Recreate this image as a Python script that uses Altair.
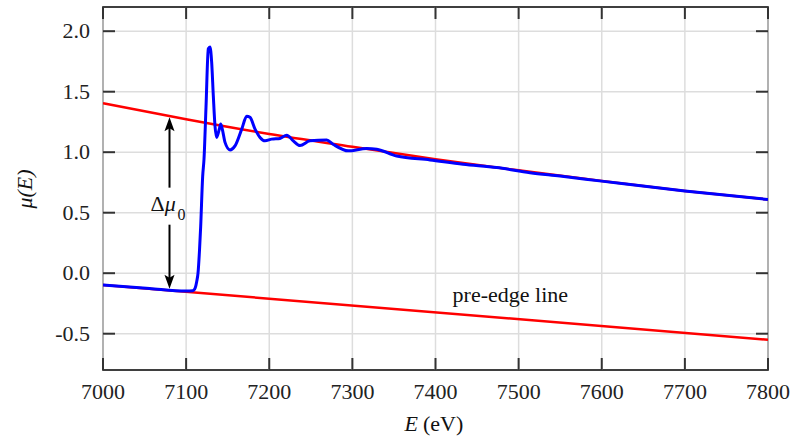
import altair as alt
import pandas as pd

# ---- data ----
E_blue = [7000, 7056, 7100, 7108, 7111, 7112.7, 7114.3, 7116.1, 7117.5, 7119.9, 7121.5,
          7123.9, 7126.7, 7128.7, 7130.7, 7132.7, 7134.7, 7136.7, 7139.9, 7141.6, 7143.5,
          7146.8, 7152.8, 7158.8, 7166.9, 7172.9, 7176.8, 7182.9, 7188.9, 7194.9, 7202.9,
          7212.9, 7221.0, 7228.9, 7237.0, 7249.0, 7269.1, 7276.7, 7295.1, 7317.2, 7329.3,
          7353.3, 7393.4, 7433.1, 7473.6, 7513.7, 7549.8, 7599.9, 7700, 7800]
mu_blue = [-0.097, -0.127, -0.148, -0.145, -0.120, -0.070, 0.000, 0.190, 0.385, 0.800, 0.942,
           1.370, 1.856, 1.870, 1.746, 1.468, 1.219, 1.122, 1.191, 1.233, 1.191,
           1.081, 1.019, 1.052, 1.191, 1.297, 1.288, 1.191, 1.122, 1.094, 1.108,
           1.114, 1.141, 1.094, 1.055, 1.094, 1.100, 1.066, 1.011, 1.031, 1.025,
           0.969, 0.936, 0.900, 0.873, 0.831, 0.803, 0.761, 0.679, 0.609]

E_post = [7000, 7100, 7200, 7300, 7400, 7500, 7600, 7700, 7800]
mu_post = [1.405, 1.272, 1.150, 1.045, 0.942, 0.850, 0.762, 0.680, 0.609]

E_pre = [7000, 7800]
mu_pre = [-0.097, -0.550]

x_ticks = [7000, 7100, 7200, 7300, 7400, 7500, 7600, 7700, 7800]
x_tick_labels = ["7000", "7100", "7200", "7300", "7400", "7500", "7600", "7700", "7800"]
y_ticks = [-0.5, 0.0, 0.5, 1.0, 1.5, 2.0]
y_tick_labels = ["-0.5", "0.0", "0.5", "1.0", "1.5", "2.0"]

arrow_E = 7080
arrow_up = [0.707, 1.22]      # shaft tail, near head
arrow_up_tip = 1.288
arrow_down = [0.401, -0.06]
arrow_down_tip = -0.128

delta_label = [("Δ", 7065.6, 0.512), ("μ", 7081.0, 0.512), ("0", 7094.4, 0.443)]
pre_label = ("pre-edge line", 7490, -0.236)

FONT = "Liberation Serif"
W, H = 665, 363
TICK = 12

xs = alt.Scale(domain=[7000, 7800], nice=False, zero=False)
ys = alt.Scale(domain=[-0.8, 2.2], nice=False, zero=False)

df_blue = pd.DataFrame({"E": E_blue, "mu": mu_blue})
df_post = pd.DataFrame({"E": E_post, "mu": mu_post})
df_pre = pd.DataFrame({"E": E_pre, "mu": mu_pre})
df_xt = pd.DataFrame({"E": x_ticks, "lab": x_tick_labels})
df_yt = pd.DataFrame({"mu": y_ticks, "lab": y_tick_labels})

X = lambda f: alt.X(f, scale=xs, axis=None)
Y = lambda f: alt.Y(f, scale=ys, axis=None)

# grid
grid_v = alt.Chart(df_xt).mark_rule(color="#dddddd", strokeWidth=1.5).encode(x=X("E:Q"))
grid_h = alt.Chart(df_yt).mark_rule(color="#dddddd", strokeWidth=1.5).encode(y=Y("mu:Q"))

# inward ticks on all four sides
tick_kw = dict(color="#333333", thickness=2, size=TICK, opacity=1)
ticks_b = alt.Chart(df_xt).mark_tick(**tick_kw).encode(x=X("E:Q"), y=alt.value(H - TICK / 2))
ticks_t = alt.Chart(df_xt).mark_tick(**tick_kw).encode(x=X("E:Q"), y=alt.value(TICK / 2))
ticks_l = alt.Chart(df_yt).mark_tick(**tick_kw).encode(y=Y("mu:Q"), x=alt.value(TICK / 2))
ticks_r = alt.Chart(df_yt).mark_tick(**tick_kw).encode(y=Y("mu:Q"), x=alt.value(W - TICK / 2))

# tick labels
xlab = alt.Chart(df_xt).mark_text(font=FONT, fontSize=22, color="#222222", align="center",
                                  baseline="alphabetic").encode(x=X("E:Q"), y=alt.value(H + 29), text="lab:N")
ylab = alt.Chart(df_yt).mark_text(font=FONT, fontSize=22, color="#222222", align="right",
                                  baseline="middle").encode(y=Y("mu:Q"), x=alt.value(-13), text="lab:N")

# data lines
post = alt.Chart(df_post).mark_line(color="#ff0000", strokeWidth=2.5, interpolate="monotone", clip=True).encode(
    x=X("E:Q"), y=Y("mu:Q"))
pre = alt.Chart(df_pre).mark_line(color="#ff0000", strokeWidth=2.5, clip=True).encode(
    x=X("E:Q"), y=Y("mu:Q"))
blue = alt.Chart(df_blue).mark_line(color="#0000ff", strokeWidth=3, interpolate="monotone", clip=True).encode(
    x=X("E:Q"), y=Y("mu:Q"))

# Δμ0 arrows
df_shaft = pd.DataFrame({"E": [arrow_E, arrow_E], "m1": [arrow_up[0], arrow_down[0]],
                         "m2": [arrow_up[1], arrow_down[1]]})
shafts = alt.Chart(df_shaft).mark_rule(color="black", strokeWidth=2).encode(
    x=X("E:Q"), y=Y("m1:Q"), y2="m2:Q")
head_up = alt.Chart(pd.DataFrame({"E": [arrow_E], "mu": [arrow_up_tip]})).mark_point(
    shape="M0,0L0.36,1L0,0.78L-0.36,1Z", size=784, filled=True, color="black", opacity=1, strokeWidth=0).encode(
    x=X("E:Q"), y=Y("mu:Q"))
head_down = alt.Chart(pd.DataFrame({"E": [arrow_E], "mu": [arrow_down_tip]})).mark_point(
    shape="M0,0L0.36,-1L0,-0.78L-0.36,-1Z", size=784, filled=True, color="black", opacity=1, strokeWidth=0).encode(
    x=X("E:Q"), y=Y("mu:Q"))

def txt(t, e, m, size=22, style="normal", align="center"):
    return alt.Chart(pd.DataFrame({"t": [t], "E": [e], "mu": [m]})).mark_text(
        font=FONT, fontSize=size, fontStyle=style, align=align, baseline="alphabetic", color="#111111").encode(
        x=X("E:Q"), y=Y("mu:Q"), text="t:N")

lab_delta = txt(delta_label[0][0], delta_label[0][1], delta_label[0][2])
lab_mu = txt(delta_label[1][0], delta_label[1][1], delta_label[1][2], style="italic")
lab_0 = txt(delta_label[2][0], delta_label[2][1], delta_label[2][2], size=16)
lab_pre = txt(*pre_label)

def title_text(t, x, y, style="normal", align="center", angle=0):
    return alt.Chart(pd.DataFrame({"t": [t]})).mark_text(
        font=FONT, fontSize=22, fontStyle=style, align=align, baseline="alphabetic",
        angle=angle, color="#111111").encode(x=alt.value(x), y=alt.value(y), text="t:N")

xt_E = title_text("E", 315, 424, style="italic", align="right")
xt_unit = title_text("(eV)", 320, 424, align="left")
yt = alt.Chart(pd.DataFrame({"t": ["μ(E)"]})).mark_text(
    font=FONT, fontSize=22, fontStyle="italic", align="center", baseline="middle",
    angle=270, color="#111111").encode(x=alt.value(-78), y=alt.value(182), text="t:N")

chart = alt.layer(grid_v, grid_h, ticks_b, ticks_t, ticks_l, ticks_r, xlab, ylab,
                  post, pre, blue, shafts, head_up, head_down, lab_delta, lab_mu, lab_0,
                  lab_pre, xt_E, xt_unit, yt).properties(
    width=W, height=H, autosize=alt.AutoSizeParams(type="none"),
    padding={"left": 103, "top": 7, "right": 33, "bottom": 66},
    background="white",
).configure_view(stroke="black", strokeWidth=1.6)

chart.save("out.html", embed_options={"renderer": "svg", "actions": False})
